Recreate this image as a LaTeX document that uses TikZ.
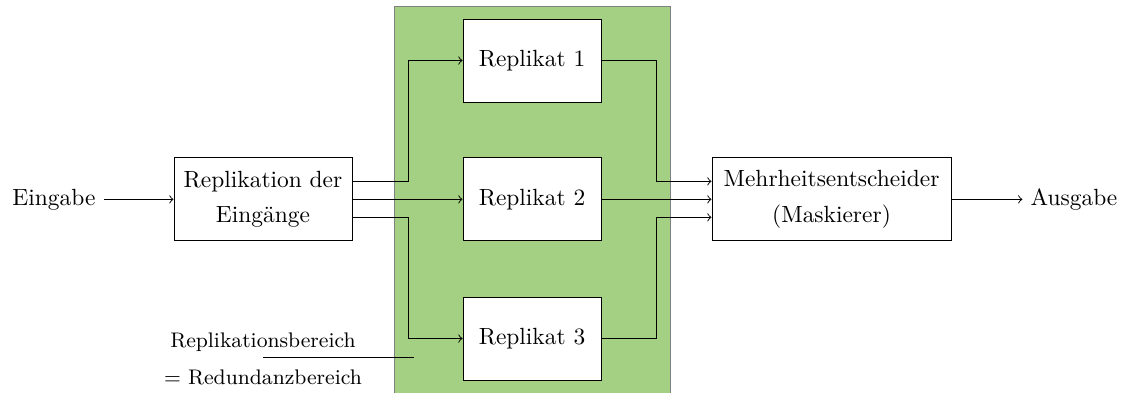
\documentclass[tikz,border=0pt]{standalone}
\usepackage{tikz}
\usetikzlibrary{arrows,positioning}

\definecolor{replgreen}{RGB}{163,208,131}

\begin{document}
\begin{tikzpicture}[node distance=1.0cm, >=to,
    block/.style={draw, rectangle, minimum height=1.245cm, align=center, fill=white},
    replbox/.style={block, minimum width=2.07cm},
    plain/.style={inner sep=0.3333em}]
    \useasboundingbox (0,0) rectangle (16.86,-5.88);
    % Replikationsbereich
    \fill[replgreen, draw=gray] (5.91,-0.09) rectangle (10.05,-6.0);
    % Nodes
    \node[plain] (in) at (0.81,-2.99) {Eingabe};
    \node[block, minimum width=2.67cm] (repl) at (3.945,-2.99) {Replikation der\\[3pt]Eingänge};
    \node[replbox] (rep1) at (7.98,-0.9075) {Replikat 1};
    \node[replbox] (rep2) at (7.98,-2.99) {Replikat 2};
    \node[replbox] (rep3) at (7.98,-5.0775) {Replikat 3};
    \node[block, minimum width=3.585cm] (vote) at (12.4725,-2.99) {Mehrheitsentscheider\\[3pt](Maskierer)};
    \node[plain] (out) at (16.11,-2.99) {Ausgabe};
    \node[font=\small, align=center] (area) at (3.945,-5.385) {Replikationsbereich\\[5pt]$=$ Redundanzbereich};
    \coordinate (areaend) at (6.21,-5.355);
    % Arrows
    \draw[->] (in) -- (repl);
    \draw[->] ([yshift=0.27cm]repl.east) -- ++(0.84,0) |- (rep1.west);
    \draw[->] (repl.east) -- (rep2.west);
    \draw[->] ([yshift=-0.27cm]repl.east) -- ++(0.84,0) |- (rep3.west);
    \draw[->] (rep1.east) -- ++(0.825,0) |- ([yshift=0.27cm]vote.west);
    \draw[->] (rep2.east) -- (vote.west);
    \draw[->] (rep3.east) -- ++(0.825,0) |- ([yshift=-0.27cm]vote.west);
    \draw[->] (vote) -- (out);
    \draw ([yshift=0.03cm]area.center) -- (areaend);
\end{tikzpicture}
\end{document}
